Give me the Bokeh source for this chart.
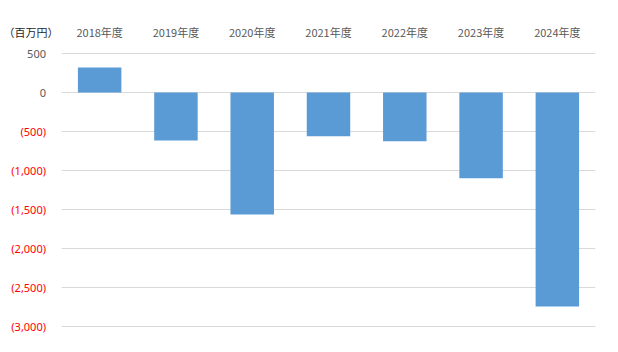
from bokeh.plotting import figure
from bokeh.layouts import row
from bokeh.models import ColumnDataSource, FactorRange, FixedTicker, Range1d
from bokeh.core.properties import value
from bokeh.embed import file_html
from bokeh.resources import INLINE

categories = ["2018年度", "2019年度", "2020年度", "2021年度", "2022年度", "2023年度", "2024年度"]
values = [320, -615, -1565, -560, -625, -1100, -2745]
tick_values = [500, 0, -500, -1000, -1500, -2000, -2500, -3000]
tick_labels = ["500", "0", "(500)", "(1,000)", "(1,500)", "(2,000)", "(2,500)", "(3,000)"]
unit_label = "（百万円）"

CJK = "Noto Sans CJK JP"
NUM = "Noto Sans"

W, H = 618, 352
LEFT_W = 61
Y0, Y1 = -3000, 500
GRID_TOP, GRID_BOTTOM = 53, 326          # pixel rows of the 500 and -3000 grid lines
upp = (Y1 - Y0) / (GRID_BOTTOM - GRID_TOP)  # data units per pixel
PAD_T, PAD_B = 8, 12                     # frame padding beyond the outer grid lines
TOP = GRID_TOP - PAD_T
BOTTOM = H - GRID_BOTTOM - PAD_B
RIGHT = 23
yr = Range1d(Y0 - PAD_B * upp, Y1 + PAD_T * upp)


def style_top_axis(fig, color):
    fig.xaxis.axis_line_color = None
    fig.xaxis.major_tick_line_color = None
    fig.xaxis.minor_tick_line_color = None
    fig.xaxis.major_label_text_font = CJK
    fig.xaxis.major_label_text_font_size = "11px"
    fig.xaxis.major_label_text_color = color
    fig.xaxis.major_label_standoff = 0
    fig.xgrid.grid_line_color = None


# main chart
p = figure(width=W - LEFT_W, height=H, x_range=FactorRange(*categories), y_range=yr,
           output_backend="svg", toolbar_location=None, x_axis_location="above",
           y_axis_location=None,
           min_border_left=0, min_border_right=RIGHT, min_border_top=TOP, min_border_bottom=BOTTOM)
p.outline_line_color = None
p.border_fill_color = "white"

src = ColumnDataSource(dict(x=categories, top=values))
p.vbar(x="x", top="top", bottom=0, width=0.57, source=src, fill_color="#5B9BD5", line_color=None)
style_top_axis(p, "#595959")

p.ygrid.ticker = FixedTicker(ticks=tick_values)
p.ygrid.grid_line_color = "#D9D9D9"
p.ygrid.grid_line_width = 1

# left label strip, same vertical scale and frame
q = figure(width=LEFT_W, height=H, x_range=FactorRange(unit_label), y_range=yr,
           output_backend="svg", toolbar_location=None, x_axis_location="above",
           y_axis_location=None,
           min_border_left=0, min_border_right=0, min_border_top=TOP, min_border_bottom=BOTTOM)
q.grid.visible = False
q.outline_line_color = None
q.border_fill_color = "white"
style_top_axis(q, "#262626")

colors = ["#595959" if v >= 0 else "#FF0000" for v in tick_values]
lsrc = ColumnDataSource(dict(y=tick_values, text=tick_labels, color=colors,
                             x=[unit_label] * len(tick_values)))
q.text(x="x", y="y", text="text", source=lsrc, x_offset=15, text_align="right",
       text_baseline="middle", text_color="color", text_font=value(NUM), text_font_size="11px")

layout = row(q, p, spacing=0)
open("out.html", "w").write(file_html(layout, INLINE))
